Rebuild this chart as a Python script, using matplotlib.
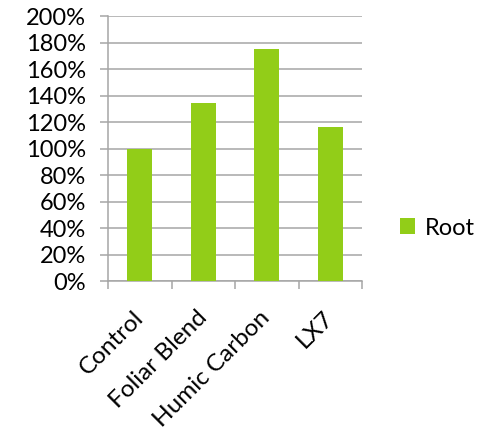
import matplotlib.pyplot as plt
import numpy as np
from matplotlib.ticker import PercentFormatter

categories = ['Control', 'Foliar Blend', 'Humic Carbon', 'LX7']
root = [100, 134, 175, 116]
series_name = 'Root'

bar_color = '#92CD18'
grid_color = '#A6A6A6'

plt.rcParams['font.family'] = ['Lato', 'DejaVu Sans']

fig = plt.figure(figsize=(4.89, 4.36), dpi=100)
ax = fig.add_axes([0.2209, 0.3555, 0.5194, 0.6078])

x = np.arange(len(categories))
ax.bar(x, root, width=0.4, color=bar_color, label=series_name, zorder=3)

ax.set_xlim(-0.5, len(categories) - 0.5)
ax.set_ylim(0, 200)
ax.set_yticks(np.arange(0, 201, 20))
ax.yaxis.set_major_formatter(PercentFormatter(decimals=0))
ax.grid(axis='y', color=grid_color, linewidth=1.1, zorder=0)

# category labels sit between the boundary ticks
ax.set_xticks(x)
ax.set_xticklabels(categories, rotation=45, ha='right', va='center',
                   rotation_mode='anchor', fontsize=17.5)
ax.set_xticks(np.arange(-0.5, len(categories)), minor=True)
ax.tick_params(axis='x', which='major', length=0, pad=24)
ax.tick_params(axis='x', which='minor', length=6, width=1.1, color=grid_color)
ax.tick_params(axis='y', length=6, width=1.1, color=grid_color, labelsize=17, pad=10)

for side in ['top', 'right']:
    ax.spines[side].set_visible(False)
for side in ['left', 'bottom']:
    ax.spines[side].set_color(grid_color)
    ax.spines[side].set_linewidth(1.1)

ax.legend(loc='center left', bbox_to_anchor=(1.065, 0.2), frameon=False,
          fontsize=17, handlelength=0.65, handleheight=0.65, handletextpad=0.4)

fig.savefig('out.png', dpi=100)
